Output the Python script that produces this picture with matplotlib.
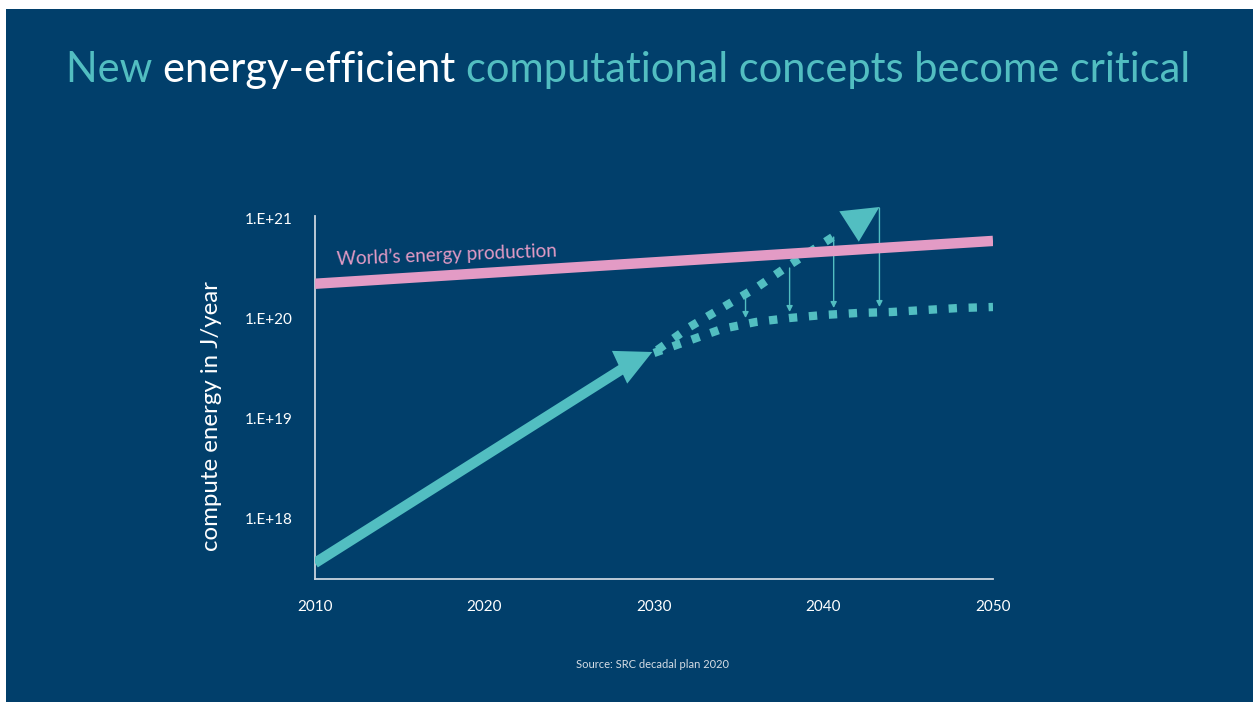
import matplotlib
matplotlib.use("Agg")
import matplotlib.pyplot as plt
from matplotlib.patches import Rectangle
from matplotlib.ticker import FixedLocator, NullLocator

# --- data ---
prod_years = [2010, 2050]
prod_energy = [2.2e20, 5.9e20]

trend_years = [2010, 2028.4]
trend_energy = [10**17.55, 10**19.52]
trend_tip = (2029.9, 10**19.66)

bau_years = [2030.2, 2032.1, 2034.1, 2036.1, 2038.0, 2040.0, 2041.0]
bau_energy = [10**19.68, 10**19.91, 10**20.11, 10**20.31, 10**20.53, 10**20.75, 10**20.86]
bau_tip = (2043.3, 10**21.11)

eff_years = [2030, 2032, 2034, 2036, 2038, 2040, 2042, 2044, 2046, 2048, 2050]
eff_energy = [10**v for v in [19.65, 19.77, 19.89, 19.96, 20.00, 20.03, 20.05, 20.06, 20.08, 20.10, 20.11]]

gap_years = [2035.4, 2038.0, 2040.6, 2043.3]
gap_top = [10**20.26, 10**20.50, 10**20.81, 10**21.10]
gap_bottom = [10**20.00, 10**20.06, 10**20.10, 10**20.11]

ytick_vals = [1e18, 1e19, 1e20, 1e21]
ytick_labels = ["1.E+18", "1.E+19", "1.E+20", "1.E+21"]
xtick_vals = [2010, 2020, 2030, 2040, 2050]

NAVY = "#013f6b"
TEAL = "#52bec1"
PINK = "#e39bc5"
AXIS = "#c9d4df"

plt.rcParams["font.family"] = ["Lato", "DejaVu Sans"]

fig = plt.figure(figsize=(12.53, 7.02), dpi=100, facecolor="white")
fig.patches.append(Rectangle((6 / 1253, 0), 1 - 6 / 1253, 1 - 9 / 702,
                             transform=fig.transFigure, facecolor=NAVY,
                             edgecolor="none", zorder=-10))

ax = fig.add_axes([315 / 1253, 123 / 702, 678 / 1253, 363 / 702])
ax.set_facecolor("none")
ax.set_yscale("log")
ax.set_xlim(2010, 2050)
ax.set_ylim(10**17.39, 10**21.02)

# world energy production
ax.plot(prod_years, prod_energy, color=PINK, lw=7.5, solid_capstyle="butt", zorder=4)
ax.text(2011.3, 10**20.53, "World\u2019s energy production", color=PINK, fontsize=13.5,
        rotation=2.2, rotation_mode="anchor", ha="left", va="baseline", zorder=5)

# historic trend, solid arrow
ax.plot(trend_years, trend_energy, color=TEAL, lw=7.5, solid_capstyle="butt", zorder=3)
ax.annotate("", xy=trend_tip, xytext=(2028.0, 10**19.51),
            arrowprops=dict(arrowstyle="-|>,head_length=1.3,head_width=0.65",
                            mutation_scale=20, lw=0, color=TEAL,
                            shrinkA=0, shrinkB=0), zorder=3)

# business-as-usual, dotted with arrow head
ax.plot(bau_years, bau_energy, color=TEAL, lw=6, linestyle=(0, (1, 1.4)),
        dash_capstyle="butt", zorder=3)
ax.annotate("", xy=bau_tip, xytext=(2041.0, 10**20.86), annotation_clip=False,
            arrowprops=dict(arrowstyle="-|>,head_length=1.3,head_width=0.65",
                            mutation_scale=20, lw=0, color=TEAL,
                            shrinkA=0, shrinkB=0, clip_on=False), zorder=3)

# energy-efficient path
ax.plot(eff_years, eff_energy, color=TEAL, lw=6, linestyle=(0, (1, 1.4)),
        dash_capstyle="butt", zorder=3)

# savings arrows
for x, top, bottom in zip(gap_years, gap_top, gap_bottom):
    ax.annotate("", xy=(x, bottom), xytext=(x, top), annotation_clip=False,
                arrowprops=dict(arrowstyle="-|>,head_length=0.35,head_width=0.18",
                                mutation_scale=10, lw=1, color=TEAL,
                                shrinkA=0, shrinkB=0, clip_on=False), zorder=2)

# axes styling
for side in ["top", "right"]:
    ax.spines[side].set_visible(False)
for side in ["left", "bottom"]:
    ax.spines[side].set_color(AXIS)
    ax.spines[side].set_linewidth(1.3)
ax.yaxis.set_major_locator(FixedLocator(ytick_vals))
ax.yaxis.set_minor_locator(NullLocator())
ax.set_yticklabels(ytick_labels)
ax.set_xticks(xtick_vals)
ax.set_xticklabels([str(v) for v in xtick_vals])
ax.tick_params(axis="both", length=0, colors="white", labelsize=11)
ax.tick_params(axis="y", pad=16)
ax.tick_params(axis="x", pad=15)
ax.set_ylabel("compute energy in J/year", color="white", fontsize=17.3)
ax.yaxis.set_label_coords(-0.137, 0.449)

# title with mixed colours
title_parts = [("New ", TEAL), ("energy-efficient ", "white"),
               ("computational concepts become critical", TEAL)]
prev = fig.text(66 / 1253, 1 - 82 / 702, title_parts[0][0], color=title_parts[0][1],
                fontsize=30, ha="left", va="baseline")
for txt, col in title_parts[1:]:
    prev = ax.annotate(txt, xy=(1, 0), xycoords=prev, color=col, fontsize=30,
                       ha="left", va="bottom", annotation_clip=False)

fig.text(653 / 1253, 1 - 668 / 702, "Source: SRC decadal plan 2020", color="#d6dde5",
         fontsize=8, ha="center", va="baseline")

fig.savefig("out.png", dpi=100, facecolor=fig.get_facecolor())
